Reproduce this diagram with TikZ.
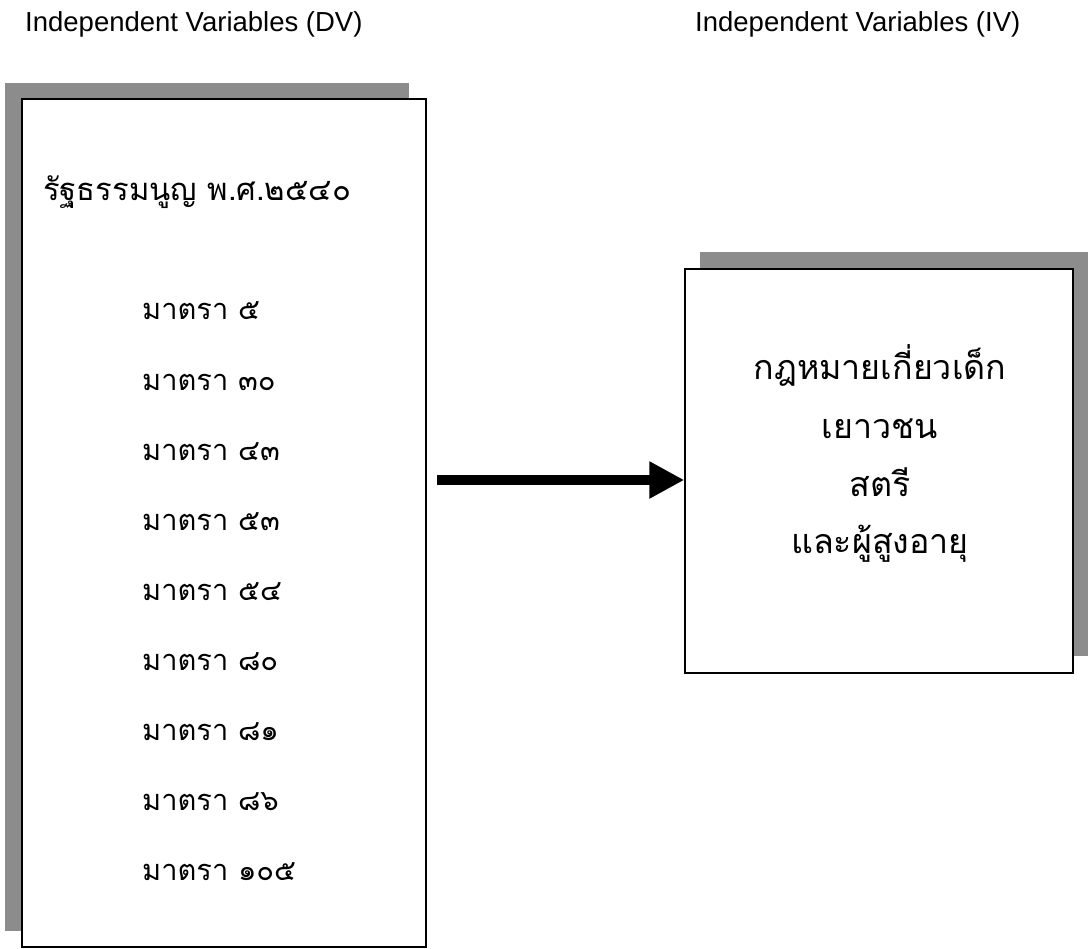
\documentclass[tikz,border=0pt]{standalone}
\usepackage{fontspec}
\setmainfont{Liberation Sans}
\newfontfamily\thaifont[Script=Thai]{Loma}
\usetikzlibrary{arrows.meta,shadows}
\tikzset{
  varbox/.style={draw,line width=1.5pt,fill=white,rectangle,inner sep=0pt},
  head/.style={anchor=base west,inner sep=0pt,font=\fontsize{27.5}{31}\selectfont},
  law/.style={anchor=base west,inner sep=0pt,font=\thaifont\fontsize{29}{33}\selectfont},
  lawc/.style={anchor=base,inner sep=0pt,font=\thaifont\fontsize{34}{38}\selectfont},
}
\begin{document}
\begin{tikzpicture}[x=1pt,y=-1pt]
      \useasboundingbox[fill=white] (0,0) rectangle (1092,949);
      \node[head] (hdv) at (25,32) {Independent Variables (DV)};
      \node[head] (hiv) at (695,32) {Independent Variables (IV)};
      \node[varbox,minimum width=404pt,minimum height=848pt,
        drop shadow={shadow xshift=-17pt,shadow yshift=16pt,fill=black!45,opacity=1}]
        (dv) at (224,523) {};
      \node[varbox,minimum width=388pt,minimum height=404pt,
        drop shadow={shadow xshift=15pt,shadow yshift=17pt,fill=black!45,opacity=1}]
        (iv) at (879,471) {};
      \draw
        (43,201) node[law,font=\thaifont\fontsize{31}{35}\selectfont] (rc){รัฐธรรมนูญ พ.ศ.๒๕๔๐}
        (142,320) node[law] (m1){มาตรา ๕}
        (142,390) node[law] (m2){มาตรา ๓๐}
        (142,460) node[law] (m3){มาตรา ๔๓}
        (142,530) node[law] (m4){มาตรา ๕๓}
        (142,600) node[law] (m5){มาตรา ๕๔}
        (142,670) node[law] (m6){มาตรา ๘๐}
        (142,740) node[law] (m7){มาตรา ๘๑}
        (142,810) node[law] (m8){มาตรา ๘๖}
        (142,880) node[law] (m9){มาตรา ๑๐๕};
      \draw
        (880,380) node[lawc] (l1){กฎหมายเกี่ยวเด็ก}
        (880,438) node[lawc] (l2){เยาวชน}
        (880,496) node[lawc] (l3){สตรี}
        (880,553) node[lawc] (l4){และผู้สูงอายุ};
      \coordinate (from) at (437,480);
      \draw[line width=10pt,-{Triangle[length=35pt,width=35pt]}] (from) -- (from -| iv.west);
    \end{tikzpicture}
\end{document}
